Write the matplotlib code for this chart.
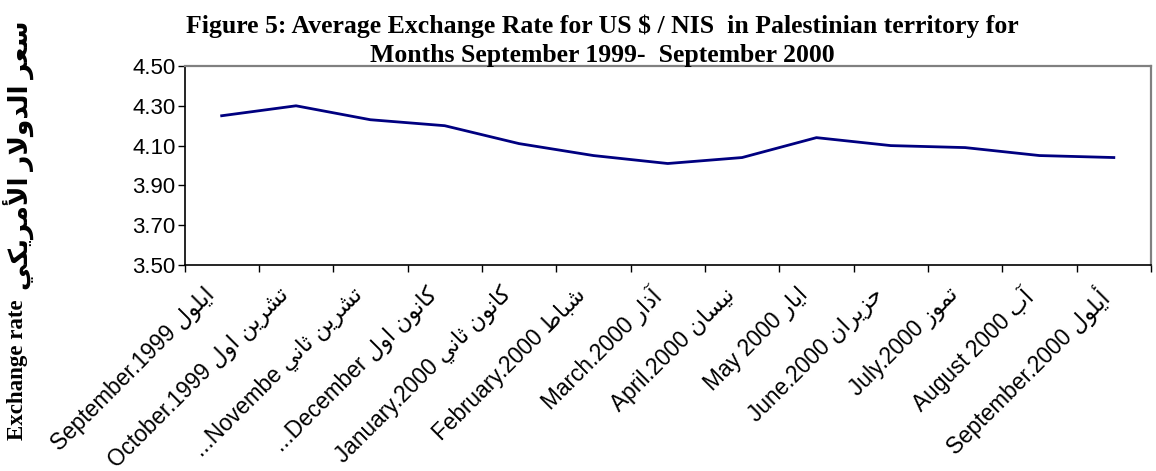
import matplotlib
matplotlib.use("Agg")
import matplotlib.pyplot as plt
import matplotlib.transforms as mtransforms
from matplotlib.ticker import FixedLocator, NullFormatter

# ---------------- data ----------------
months_en = ["September.1999", "October.1999", "...Novembe", "...December",
             "January.2000", "February.2000", "March.2000", "April.2000",
             "May 2000", "June.2000", "July.2000", "August 2000", "September.2000"]
months_ar = ["ايلول", "تشرين اول", "تشرين ثاني", "كانون اول",
             "كانون ثاني", "شباط", "آذار", "نيسان",
             "ايار", "حزيران", "تموز", "آب", "أيلول"]
rates = [4.25, 4.30, 4.23, 4.20, 4.11, 4.05, 4.01, 4.04, 4.14, 4.10, 4.09, 4.05, 4.04]
yticks = [3.50, 3.70, 3.90, 4.10, 4.30, 4.50]
title_line1 = "Figure 5: Average Exchange Rate for US $ / NIS  in Palestinian territory for"
title_line2 = "Months September 1999-  September 2000"
ylabel_en = "Exchange rate"
ylabel_ar = "سعر الدولار الأمريكي"

# ------------- minimal Arabic shaping (presentation forms, visual order) -------------
FORMS = {  # isolated, final, initial, medial
    'ا': (0xFE8D, 0xFE8E, None, None), 'آ': (0xFE81, 0xFE82, None, None),
    'أ': (0xFE83, 0xFE84, None, None), 'د': (0xFEA9, 0xFEAA, None, None),
    'ذ': (0xFEAB, 0xFEAC, None, None), 'ر': (0xFEAD, 0xFEAE, None, None),
    'ز': (0xFEAF, 0xFEB0, None, None), 'و': (0xFEED, 0xFEEE, None, None),
    'ب': (0xFE8F, 0xFE90, 0xFE91, 0xFE92), 'ت': (0xFE95, 0xFE96, 0xFE97, 0xFE98),
    'ث': (0xFE99, 0xFE9A, 0xFE9B, 0xFE9C), 'ح': (0xFEA1, 0xFEA2, 0xFEA3, 0xFEA4),
    'س': (0xFEB1, 0xFEB2, 0xFEB3, 0xFEB4), 'ش': (0xFEB5, 0xFEB6, 0xFEB7, 0xFEB8),
    'ط': (0xFEC1, 0xFEC2, 0xFEC3, 0xFEC4), 'ع': (0xFEC9, 0xFECA, 0xFECB, 0xFECC),
    'ك': (0xFED9, 0xFEDA, 0xFEDB, 0xFEDC), 'ل': (0xFEDD, 0xFEDE, 0xFEDF, 0xFEE0),
    'م': (0xFEE1, 0xFEE2, 0xFEE3, 0xFEE4), 'ن': (0xFEE5, 0xFEE6, 0xFEE7, 0xFEE8),
    'ي': (0xFEF1, 0xFEF2, 0xFEF3, 0xFEF4),
}
LAMALEF = {'ا': (0xFEFB, 0xFEFC), 'أ': (0xFEF7, 0xFEF8), 'آ': (0xFEF5, 0xFEF6)}


def dual(c):
    return c in FORMS and FORMS[c][2] is not None


def shape_ar(s):
    out = []
    i = 0
    n = len(s)
    while i < n:
        c = s[i]
        if c not in FORMS:
            out.append(c)
            i += 1
            continue
        prev_join = i > 0 and dual(s[i - 1])
        if c == 'ل' and i + 1 < n and s[i + 1] in LAMALEF:
            iso, fin = LAMALEF[s[i + 1]]
            out.append(chr(fin if prev_join else iso))
            i += 2
            continue
        next_join = dual(c) and i + 1 < n and s[i + 1] in FORMS
        iso, fin, ini, med = FORMS[c]
        if prev_join and next_join:
            code = med
        elif prev_join:
            code = fin
        elif next_join:
            code = ini
        else:
            code = iso
        out.append(chr(code))
        i += 1
    return ''.join(reversed(out))


# ---------------- figure ----------------
fig = plt.figure(figsize=(11.56, 4.71), dpi=100)
ax = fig.add_axes([184.5 / 1156, 1 - 265 / 471, (1151 - 184.5) / 1156, (265 - 66) / 471])

x = list(range(len(rates)))
ax.plot(x, rates, color="#000080", lw=2.0, solid_joinstyle="round")

ax.set_xlim(-0.5, len(rates) - 0.5)
ax.set_ylim(3.5, 4.5)

sans = ["Liberation Sans", "DejaVu Sans"]
serif = ["Liberation Serif", "DejaVu Sans"]

ax.set_yticks(yticks)
ax.set_yticklabels([f"{v:.2f}" for v in yticks], family=sans, fontsize=16)

ax.xaxis.set_major_locator(FixedLocator([i - 0.5 for i in range(len(rates) + 1)]))
ax.xaxis.set_major_formatter(NullFormatter())
ax.xaxis.set_minor_locator(FixedLocator(x))
labels = [en + " " + shape_ar(ar) for en, ar in zip(months_en, months_ar)]
ax.set_xticklabels(labels, minor=True, rotation=45, ha="right", va="top",
                   rotation_mode="anchor", family=sans, fontsize=16.3)
ax.tick_params(axis="x", which="minor", length=0, pad=13)
ax.tick_params(axis="x", which="major", length=5, width=1, direction="out", color="black")
ax.tick_params(axis="y", length=5, width=1, direction="out", color="black", pad=1.5)

shift = mtransforms.ScaledTranslation(-19 / 100, 0, fig.dpi_scale_trans)
for lbl in ax.get_xticklabels(minor=True):
    lbl.set_transform(lbl.get_transform() + shift)

for s in ("left", "bottom"):
    ax.spines[s].set_color("black")
    ax.spines[s].set_linewidth(1.2)
for s in ("top", "right"):
    ax.spines[s].set_color("#808080")
    ax.spines[s].set_linewidth(1.6)

fig.text(0.521, 1 - 33 / 471, title_line1, ha="center", va="baseline",
         family=serif, fontweight="bold", fontsize=18.5)
fig.text(0.521, 1 - 62 / 471, title_line2, ha="center", va="baseline",
         family=serif, fontweight="bold", fontsize=18.5, zorder=5)

fig.text(18 / 1156, 1 - 370 / 471, ylabel_en, rotation=90,
         ha="center", va="center", family=serif, fontweight="bold", fontsize=16.5)
fig.text(18 / 1156, 1 - 155 / 471, shape_ar(ylabel_ar), rotation=90,
         ha="center", va="center", family=serif, fontweight="bold", fontsize=19)

fig.savefig("out.png", dpi=100, facecolor="white")
